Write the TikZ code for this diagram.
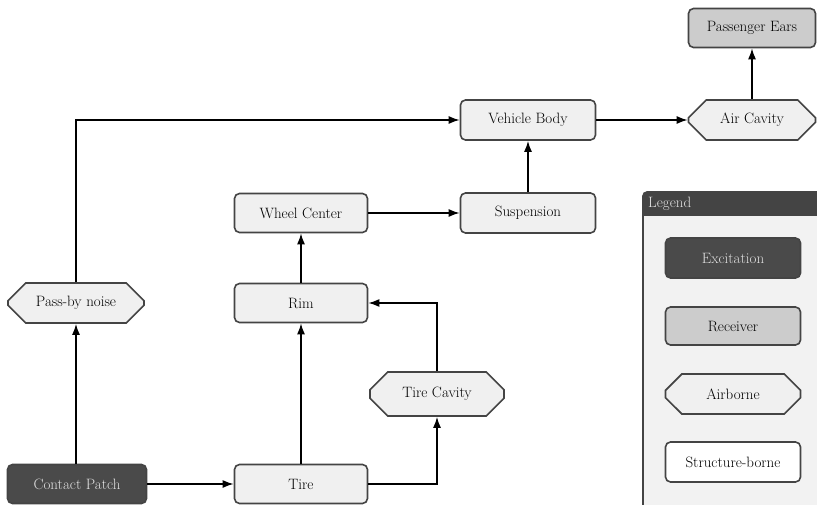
\documentclass[tikz,border=0pt]{standalone}
\usetikzlibrary{arrows.meta,shapes.misc}
\definecolor{bord}{HTML}{444444}
\definecolor{darkfill}{HTML}{4A4A4A}
\definecolor{recfill}{HTML}{CCCCCC}
\definecolor{lightfill}{HTML}{F0F0F0}
\definecolor{legfill}{HTML}{F2F2F2}
\definecolor{darktext}{HTML}{E0E0E0}
\tikzset{
  base/.style={draw=bord, line width=1.6pt, minimum width=133pt, minimum height=39pt, font=\fontsize{15}{17}\selectfont, inner sep=2pt},
  struct/.style={base, rounded corners=5pt, fill=lightfill},
  excit/.style={base, rounded corners=5pt, fill=darkfill, text=darktext},
  recv/.style={base, rounded corners=5pt, fill=recfill},
  air/.style={base, chamfered rectangle, chamfered rectangle xsep=9pt, chamfered rectangle ysep=9pt, fill=lightfill},
  flow/.style={line width=1.6pt, -{Latex[length=11pt,width=8pt]}}
}
\begin{document}
\begin{tikzpicture}[x=1pt,y=-1pt]
\clip (0,0) rectangle (817,505);
\fill[white] (0,0) rectangle (817,505);
% legend
\draw[bord, line width=1.6pt, fill=legfill, rounded corners=4pt] (643,192) rectangle (830,520);
\fill[bord, rounded corners=4pt] (643,192) rectangle (830,216);
\fill[bord] (643,205) rectangle (830,216);
\node[anchor=west, text=darktext, font=\fontsize{15}{17}\selectfont, inner sep=0pt] (legtitle) at (648,204) {Legend};
\node[excit, minimum width=135pt, minimum height=40pt] (lex) at (733,258) {Excitation};
\node[recv, minimum width=135pt, minimum height=38pt] (lrc) at (733,326) {Receiver};
\node[air, minimum width=135pt, minimum height=40pt] (lair) at (733,394) {Airborne};
\node[struct, minimum width=135pt, minimum height=40pt, fill=white] (lst) at (733,462) {Structure-borne};
% nodes
\node[excit, minimum width=139pt] (cp) at (77,484) {Contact Patch};
\node[struct] (tire) at (301,484) {Tire};
\node[air, minimum width=134pt, minimum height=44pt] (tc) at (437,394) {Tire Cavity};
\node[struct] (rim) at (301,303) {Rim};
\node[struct] (wc) at (301,213) {Wheel Center};
\node[struct, minimum width=135pt, minimum height=40pt] (sus) at (528,213) {Suspension};
\node[struct, minimum width=135pt, minimum height=40pt] (vb) at (528,120) {Vehicle Body};
\node[air, minimum width=127pt, minimum height=40pt] (ac) at (752,120) {Air Cavity};
\node[recv, minimum width=127pt] (pe) at (752,28) {Passenger Ears};
\node[air, minimum width=136pt, minimum height=40pt] (pb) at (76,303) {Pass-by noise};
% connectors
\draw[flow] (cp.north -| pb) -- (pb.south);
\draw[flow] (pb.north) |- (vb.west);
\draw[flow] (cp.east) -- (tire.west);
\draw[flow] (tire.north) -- (rim.south);
\draw[flow] (tire.east) -| (tc.south);
\draw[flow] (tc.north) |- (rim.east);
\draw[flow] (rim.north) -- (wc.south);
\draw[flow] (wc.east) -- (sus.west);
\draw[flow] (sus.north) -- (vb.south);
\draw[flow] (vb.east) -- (ac.west);
\draw[flow] (ac.north) -- (pe.south);
\end{tikzpicture}
\end{document}
